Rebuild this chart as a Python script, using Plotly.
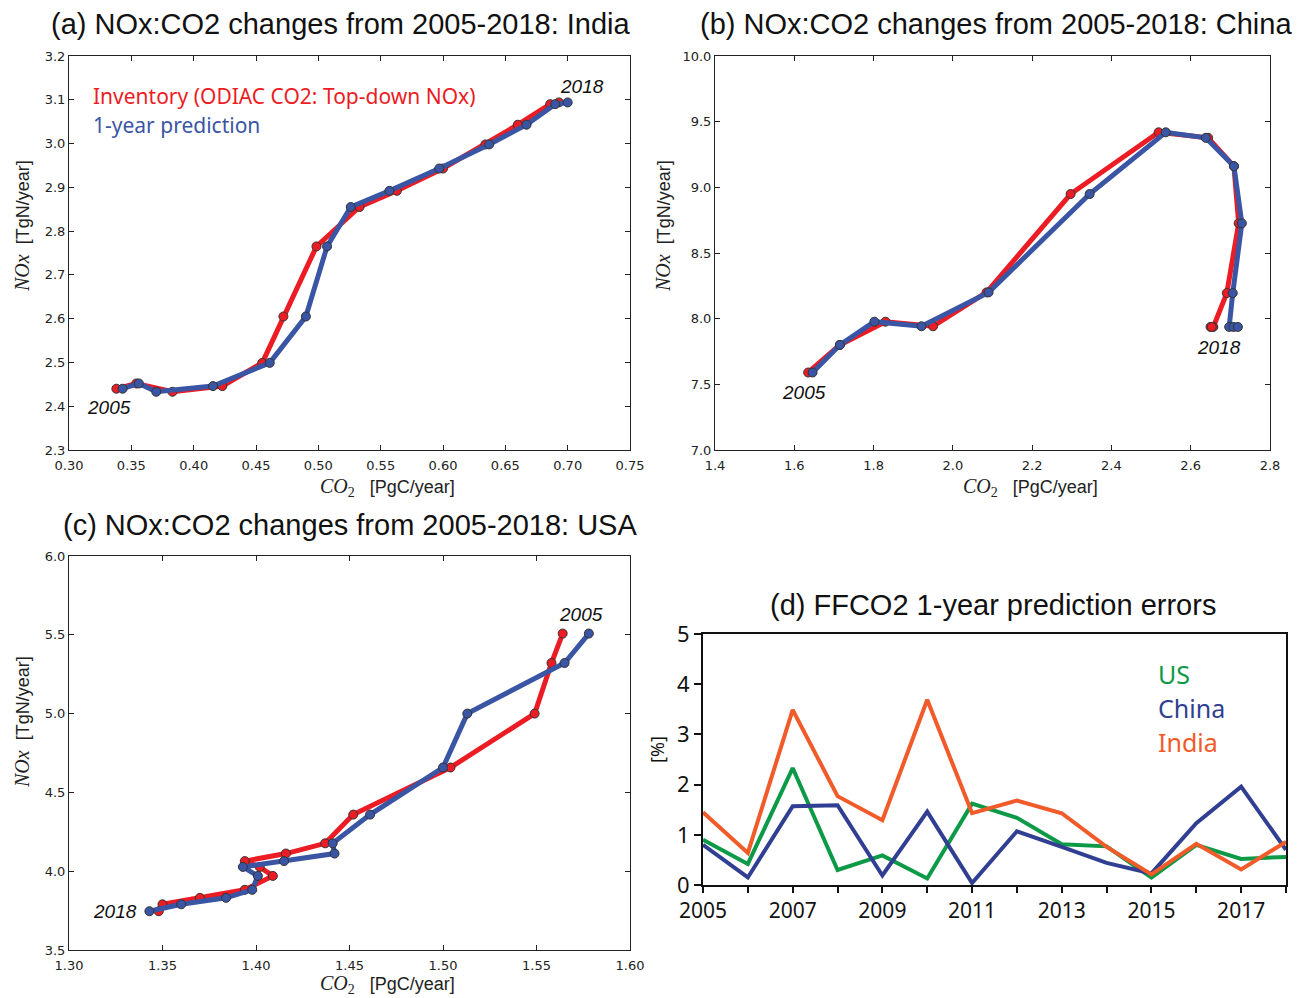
import plotly.graph_objects as go

W, H = 1298, 998

# ---------------- data ----------------
years = list(range(2005, 2019))

india_nox = [2.440, 2.452, 2.433, 2.446, 2.499, 2.605, 2.765, 2.855, 2.892, 2.943, 2.998, 3.043, 3.090, 3.094]
india_co2_inv = [0.338, 0.354, 0.383, 0.423, 0.455, 0.472, 0.4985, 0.533, 0.563, 0.600, 0.634, 0.660, 0.686, 0.693]
india_co2_pred = [0.343, 0.356, 0.370, 0.4155, 0.461, 0.490, 0.507, 0.526, 0.557, 0.597, 0.637, 0.667, 0.690, 0.700]

china_nox = [7.590, 7.800, 7.977, 7.942, 8.200, 8.949, 9.419, 9.377, 9.161, 8.726, 8.195, 7.937, 7.937, 7.937]
china_co2_inv = [1.635, 1.715, 1.830, 1.950, 2.085, 2.297, 2.519, 2.644, 2.709, 2.721, 2.691, 2.657, 2.650, 2.653]
china_co2_pred = [1.646, 1.715, 1.802, 1.921, 2.090, 2.345, 2.537, 2.638, 2.709, 2.729, 2.706, 2.697, 2.708, 2.719]

usa_nox = [5.508, 5.321, 5.000, 4.658, 4.359, 4.177, 4.112, 4.064, 4.027, 3.970, 3.882, 3.831, 3.790, 3.746]
usa_co2_inv = [1.564, 1.558, 1.549, 1.504, 1.452, 1.437, 1.416, 1.394, 1.402, 1.409, 1.394, 1.370, 1.350, 1.348]
usa_co2_pred = [1.578, 1.565, 1.513, 1.500, 1.461, 1.441, 1.442, 1.415, 1.393, 1.401, 1.398, 1.384, 1.360, 1.343]

err_us = [0.90, 0.42, 2.33, 0.30, 0.59, 0.13, 1.62, 1.34, 0.81, 0.77, 0.15, 0.80, 0.52, 0.56]
err_china = [0.80, 0.15, 1.57, 1.59, 0.19, 1.46, 0.04, 1.07, 0.76, 0.44, 0.23, 1.23, 1.96, 0.70]
err_india = [1.45, 0.64, 3.49, 1.77, 1.29, 3.69, 1.43, 1.68, 1.43, 0.76, 0.21, 0.82, 0.31, 0.86]

err_tick_years = [2005, 2007, 2009, 2011, 2013, 2015, 2017]
err_tick_labels = ["2005", "2007", "2009", "2011", "2013", "2015", "2017"]

titles = ["(a) NOx:CO2 changes from 2005-2018: India",
          "(b) NOx:CO2 changes from 2005-2018: China",
          "(c) NOx:CO2 changes from 2005-2018: USA",
          "(d) FFCO2 1-year prediction errors"]
legend_labels = ["Inventory (ODIAC CO2: Top-down NOx)", "1-year prediction"]
err_labels = ["US", "China", "India"]

# ---------------- styling ----------------
RED = "#EC1C24"
BLUE = "#3A55A4"
C_US = "#0C9A47"
C_CN = "#303F92"
C_IN = "#F15A29"


def px_x(p):
    return p / W


def px_y(p):
    return 1 - p / H


fig = go.Figure()

panels = [
    ("x", "y", india_co2_inv, india_co2_pred, india_nox),
    ("x2", "y2", china_co2_inv, china_co2_pred, china_nox),
    ("x3", "y3", usa_co2_inv, usa_co2_pred, usa_nox),
]

for xa, ya, cinv, cpred, nox in panels:
    fig.add_trace(go.Scatter(x=cinv, y=nox, xaxis=xa, yaxis=ya, mode="lines+markers",
                             line=dict(color=RED, width=5),
                             marker=dict(size=9, color=RED, line=dict(color="#333", width=1)),
                             showlegend=False, hoverinfo="skip"))
    fig.add_trace(go.Scatter(x=cpred, y=nox, xaxis=xa, yaxis=ya, mode="lines+markers",
                             line=dict(color=BLUE, width=5),
                             marker=dict(size=9, color=BLUE, line=dict(color="#333", width=1)),
                             showlegend=False, hoverinfo="skip"))

for vals, col in [(err_us, C_US), (err_china, C_CN), (err_india, C_IN)]:
    fig.add_trace(go.Scatter(x=years, y=vals, xaxis="x4", yaxis="y4", mode="lines",
                             line=dict(color=col, width=4), showlegend=False, hoverinfo="skip"))

tickfont = dict(family="DejaVu Sans", size=13, color="#222")
common = dict(showgrid=False, zeroline=False, showline=True, linecolor="#222", linewidth=1,
              mirror="allticks", ticks="inside", ticklen=5, tickcolor="#222", tickfont=tickfont,
              automargin=False)
xcommon = dict(common, ticklabelstandoff=3)

dom_ab_y = [px_y(450), px_y(56)]
dom_c_y = [px_y(950), px_y(556)]
dom_left_x = [px_x(69), px_x(630)]
dom_b_x = [px_x(715), px_x(1270)]

fig.update_layout(
    template="none",
    width=W, height=H, margin=dict(l=0, r=0, t=0, b=0, autoexpand=False),
    paper_bgcolor="white", plot_bgcolor="white",
    xaxis=dict(domain=dom_left_x, anchor="y", range=[0.30, 0.75], dtick=0.05, tickformat=".2f", **xcommon),
    yaxis=dict(domain=dom_ab_y, anchor="x", range=[2.3, 3.2], dtick=0.1, tickformat=".1f", **common),
    xaxis2=dict(domain=dom_b_x, anchor="y2", range=[1.4, 2.8], dtick=0.2, tickformat=".1f", **xcommon),
    yaxis2=dict(domain=dom_ab_y, anchor="x2", range=[7.0, 10.0], dtick=0.5, tickformat=".1f", **common),
    xaxis3=dict(domain=dom_left_x, anchor="y3", range=[1.30, 1.60], dtick=0.05, tickformat=".2f", **xcommon),
    yaxis3=dict(domain=dom_c_y, anchor="x3", range=[3.5, 6.0], dtick=0.5, tickformat=".1f", **common),
    xaxis4=dict(domain=[px_x(703), px_x(1286)], anchor="y4", range=[2005, 2018],
                tickvals=err_tick_years, ticktext=err_tick_labels, automargin=False,
                showgrid=False, zeroline=False, showline=True, linecolor="#111", linewidth=2,
                mirror=True, ticks="outside", ticklen=6, tickwidth=1.5, tickcolor="#111",
                minor=dict(ticks="outside", tick0=2005, dtick=1, ticklen=6, tickwidth=1.5, tickcolor="#111"),
                tickfont=dict(family="Noto Sans", size=21, color="#111")),
    yaxis4=dict(domain=[px_y(885), px_y(634)], anchor="x4", range=[0, 5], dtick=1, automargin=False,
                showgrid=False, zeroline=False, showline=True, linecolor="#111", linewidth=2,
                mirror=True, ticks="outside", ticklen=7, tickwidth=1.5, tickcolor="#111",
                tickfont=dict(family="Noto Sans", size=22, color="#111")),
)

ann = []
title_font = dict(family="Liberation Sans", size=29, color="#111")
for txt, cx, cy in [(titles[0], 341, 24), (titles[1], 996, 24), (titles[2], 350, 525), (titles[3], 993, 605)]:
    ann.append(dict(text=txt, x=px_x(cx), y=px_y(cy), xref="paper", yref="paper",
                    xanchor="center", yanchor="middle", showarrow=False, font=title_font))

# axis titles
ytitle = ("<span style=\"font-family:'Liberation Serif'; font-size:20px\"><i>NOx</i></span>"
          "  [TgN/year]")
xtitle = ("<span style=\"font-family:'Liberation Serif'; font-size:20px\"><i>CO</i><sub>2</sub></span>"
          "   [PgC/year]")
axfont = dict(family="Liberation Sans", size=18, color="#222")
for cx, cy in [(22, 226), (663, 226), (22, 722)]:
    ann.append(dict(text=ytitle, x=px_x(cx), y=px_y(cy), xref="paper", yref="paper",
                    xanchor="center", yanchor="middle", textangle=-90, showarrow=False, font=axfont))
for cx, cy in [(387, 487), (1030, 487), (387, 984)]:
    ann.append(dict(text=xtitle, x=px_x(cx), y=px_y(cy), xref="paper", yref="paper",
                    xanchor="center", yanchor="middle", showarrow=False, font=axfont))
ann.append(dict(text="[%]", x=px_x(657), y=px_y(750), xref="paper", yref="paper",
                xanchor="center", yanchor="middle", textangle=-90, showarrow=False,
                font=dict(family="Noto Sans", size=18, color="#111")))

# year labels
yrfont = dict(family="Liberation Sans", size=19, color="#111")
for txt, x, y, xr, yr in [("<i>2005</i>", 0.3318, 2.396, "x", "y"), ("<i>2018</i>", 0.7113, 3.130, "x", "y"),
                          ("<i>2005</i>", 1.6255, 7.438, "x2", "y2"), ("<i>2018</i>", 2.672, 7.780, "x2", "y2"),
                          ("<i>2005</i>", 1.5738, 5.631, "x3", "y3"), ("<i>2018</i>", 1.3248, 3.747, "x3", "y3")]:
    ann.append(dict(text=txt, x=x, y=y, xref=xr, yref=yr, xanchor="center", yanchor="middle",
                    showarrow=False, font=yrfont))

# legend texts panel (a)
legfont = "Noto Sans"
ann.append(dict(text=legend_labels[0], x=px_x(91), y=px_y(96), xref="paper", yref="paper",
                xanchor="left", yanchor="middle", showarrow=False,
                font=dict(family=legfont, size=21, color=RED)))
ann.append(dict(text=legend_labels[1], x=px_x(91), y=px_y(125), xref="paper", yref="paper",
                xanchor="left", yanchor="middle", showarrow=False,
                font=dict(family=legfont, size=21, color=BLUE)))

# legend texts panel (d)
for txt, col, cy in [(err_labels[0], C_US, 674), (err_labels[1], C_CN, 708), (err_labels[2], C_IN, 742)]:
    ann.append(dict(text=txt, x=px_x(1156), y=px_y(cy), xref="paper", yref="paper",
                    xanchor="left", yanchor="middle", showarrow=False,
                    font=dict(family=legfont, size=25, color=col)))

fig.update_layout(annotations=ann)
fig.write_html("out.html")
